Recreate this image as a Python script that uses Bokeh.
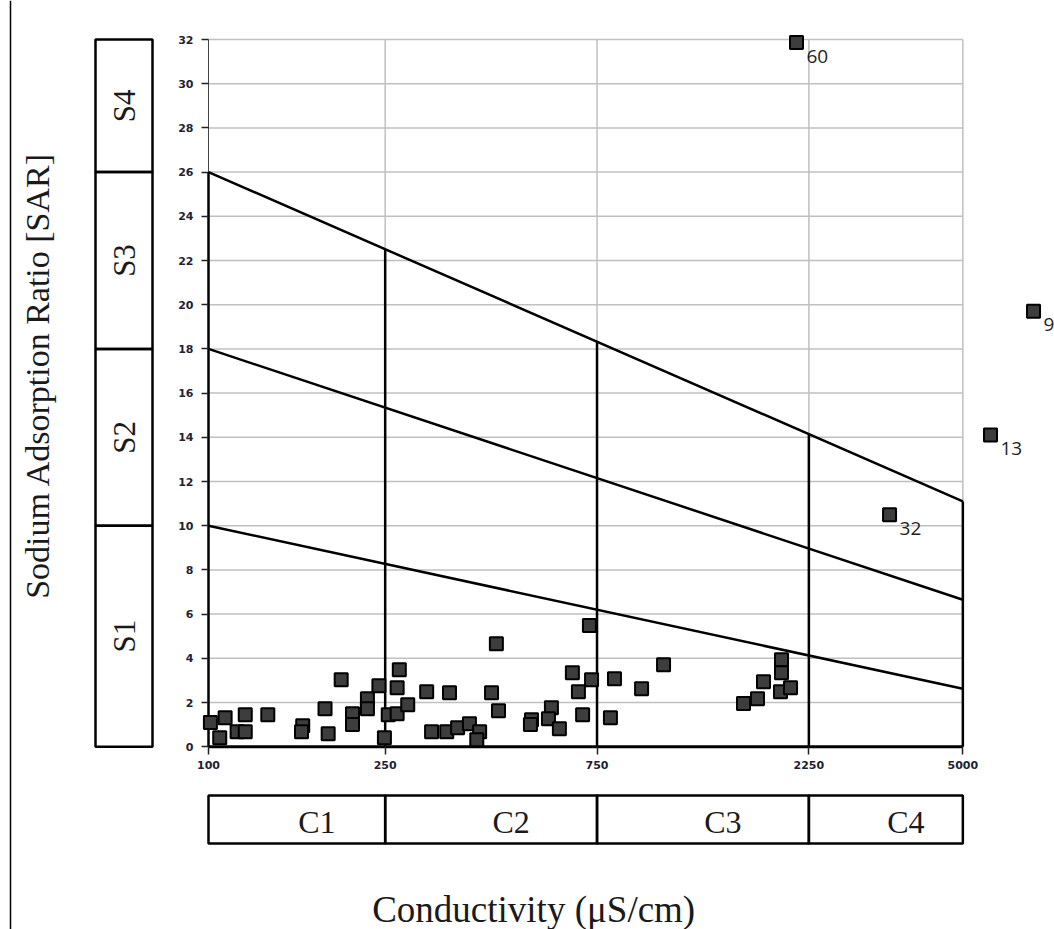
import numpy as np
from bokeh.plotting import figure
from bokeh.layouts import row, column
from bokeh.models import Range1d, FixedTicker, PrintfTickFormatter
from bokeh.core.properties import value
from bokeh.embed import file_html
from bokeh.resources import INLINE

# ---------------- data ----------------
COND = [101, 109, 106, 116, 121, 121, 136, 163, 162, 183,
        186, 199, 211, 211, 228, 228, 242, 249, 254, 266,
        266, 269, 281, 310, 318, 344, 349, 364, 387, 408,
        402, 434, 445, 450, 534, 531, 592, 583, 617, 660,
        681, 696, 729, 721, 804, 821, 945, 1059, 1603, 1724,
        1778, 1952, 1952, 1942, 2046]
SAR = [1.09, 1.31, 0.41, 0.68, 0.68, 1.45, 1.45, 0.95, 0.68, 1.72,
       0.59, 3.03, 1.49, 1.0, 2.17, 1.72, 2.76, 0.41, 1.45, 1.49,
       2.67, 3.48, 1.90, 2.49, 0.68, 0.68, 2.44, 0.86, 1.04, 0.68,
       0.32, 2.44, 4.66, 1.63, 1.22, 1.0, 1.76, 1.27, 0.81, 3.35,
       2.49, 1.45, 3.03, 5.48, 1.31, 3.08, 2.62, 3.71, 1.95, 2.17,
       2.94, 3.94, 3.35, 2.49, 2.67]

# labelled samples
OUT_COND = [2110, 3419, 5771, 7214]
OUT_SAR = [31.86, 10.5, 14.1, 19.7]
OUT_ID = ["60", "32", "13", "9"]

# classification
C_BREAKS = [100, 250, 750, 2250, 5000]
C_LABELS = ["C1", "C2", "C3", "C4"]
S_BREAKS = [0, 10, 18, 26, 32]
S_LABELS = ["S1", "S2", "S3", "S4"]
LINE_X = [100, 5000]
S1_S2 = [10, 2.62]
S2_S3 = [18, 6.65]
S3_S4 = [26, 11.1]
Y_TICKS = list(range(0, 33, 2))

# ---------------- layout constants ----------------
PX_DEC = 444.0      # pixels per decade of conductivity
PX_SAR = 22.1       # pixels per SAR unit
TOT_W = 1054
TOT_H = 929
LEFT_W = 158
MAIN_W = TOT_W - LEFT_W
BORDER_L = 43
FRAME_W = MAIN_W - BORDER_L
FRAME_H = 754
BORDER_B = 22
TOP_H = FRAME_H + BORDER_B
BOT_H = TOT_H - TOP_H

Y_TOP = 32 + 39 / PX_SAR
Y_BOT = Y_TOP - FRAME_H / PX_SAR
LOG_L = 2 - 7 / PX_DEC
X_START = 10 ** LOG_L
X_END = 10 ** (LOG_L + FRAME_W / PX_DEC)

SERIF = value("Liberation Serif")
TXT = "#1a1a1a"

# ---------------- main plot ----------------
p = figure(width=MAIN_W, height=TOP_H, x_axis_type="log",
           x_range=Range1d(X_START, X_END), y_range=Range1d(Y_BOT, Y_TOP),
           output_backend="svg", toolbar_location=None,
           min_border_left=BORDER_L, min_border_right=0,
           min_border_top=0, min_border_bottom=BORDER_B)
p.outline_line_color = None
p.xgrid.visible = False
p.ygrid.visible = False

# grid (only inside diagram)
gy = Y_TICKS[1:]
p.segment(x0=[LINE_X[0]] * len(gy), x1=[LINE_X[1]] * len(gy), y0=gy, y1=gy,
          line_color="#c0c0c0", line_width=1.5)
gx = C_BREAKS[1:]
p.segment(x0=gx, x1=gx, y0=[0] * len(gx), y1=[S_BREAKS[-1]] * len(gx),
          line_color="#c0c0c0", line_width=1.5)
p.segment(x0=[C_BREAKS[0]], x1=[C_BREAKS[0]], y0=[0], y1=[S_BREAKS[-1]],
          line_color="#444444", line_width=1)

# classification lines
for ys in (S1_S2, S2_S3, S3_S4):
    p.line(LINE_X, ys, line_color="black", line_width=2.5)
v_top = np.interp(np.log10(C_BREAKS), np.log10(LINE_X), S3_S4)
p.segment(x0=C_BREAKS, x1=C_BREAKS, y0=[0] * len(C_BREAKS), y1=list(v_top),
          line_color="black", line_width=2.5)
p.segment(x0=[LINE_X[0]], x1=[LINE_X[1]], y0=[0], y1=[0],
          line_color="black", line_width=3)

# samples
p.scatter(COND + OUT_COND, SAR + OUT_SAR, marker="square", size=13,
          fill_color="#3d3d3d", line_color="black", line_width=2)
p.text(OUT_COND, OUT_SAR, text=OUT_ID, x_offset=10, y_offset=7,
       text_baseline="top", text_align="left",
       text_font=value("Open Sans"), text_font_size="19px", text_color="#222222")

# axes
p.yaxis.ticker = FixedTicker(ticks=Y_TICKS)
p.yaxis.axis_line_color = None
p.yaxis.major_tick_in = 7
p.yaxis.major_tick_out = 0
p.yaxis.minor_tick_line_color = None
p.yaxis.major_label_standoff = 8
p.xaxis.ticker = FixedTicker(ticks=C_BREAKS)
p.xaxis.formatter = PrintfTickFormatter(format="%d")
p.xaxis.axis_line_color = None
p.xaxis.major_tick_in = 8
p.xaxis.major_tick_out = 0
p.xaxis.minor_tick_line_color = None
p.xaxis.major_label_standoff = 6
for ax in (p.xaxis, p.yaxis):
    ax.major_tick_line_color = "#222222"
    ax.major_tick_line_width = 1.5
    ax.major_label_text_font = "DejaVu Sans"
    ax.major_label_text_font_style = "bold"
    ax.major_label_text_font_size = "11px"
    ax.major_label_text_color = "#222233"

# ---------------- left panel (S classes + y label) ----------------
ly0 = Y_TOP - TOT_H / PX_SAR
L = figure(width=LEFT_W, height=TOT_H, x_range=Range1d(0, LEFT_W),
           y_range=Range1d(ly0, Y_TOP), output_backend="svg",
           toolbar_location=None, min_border=0,
           x_axis_location=None, y_axis_location=None)
L.outline_line_color = None
L.xgrid.visible = False
L.ygrid.visible = False
L.quad(left=95, right=152, bottom=S_BREAKS[:-1], top=S_BREAKS[1:],
       fill_color=None, line_color="black", line_width=2.5)
s_mid = [(a + b) / 2 for a, b in zip(S_BREAKS[:-1], S_BREAKS[1:])]
L.text(x=[124] * 4, y=s_mid, text=S_LABELS, angle=np.pi / 2,
       text_align="center", text_baseline="middle",
       text_font=SERIF, text_font_size="31px", text_color=TXT)
L.text(x=[37], y=[16.8], text=["Sodium Adsorption Ratio [SAR]"], angle=np.pi / 2,
       text_align="center", text_baseline="middle",
       text_font=SERIF, text_font_size="34px", text_color=TXT)
L.segment(x0=[10], x1=[10], y0=[ly0], y1=[Y_TOP], line_color="black", line_width=1.5)

# ---------------- bottom panel (C classes + x label) ----------------
B = figure(width=MAIN_W, height=BOT_H, x_axis_type="log", x_range=p.x_range,
           y_range=Range1d(BOT_H, 0), output_backend="svg",
           toolbar_location=None, min_border_left=BORDER_L, min_border_right=0,
           min_border_top=0, min_border_bottom=0,
           x_axis_location=None, y_axis_location=None)
B.outline_line_color = None
B.xgrid.visible = False
B.ygrid.visible = False
B.quad(left=C_BREAKS[:-1], right=C_BREAKS[1:], top=19, bottom=67,
       fill_color=None, line_color="black", line_width=2.5)
c_mid = [np.sqrt(a * b) for a, b in zip(C_BREAKS[:-1], C_BREAKS[1:])]
B.text(x=c_mid, y=[45] * 4, text=C_LABELS, x_offset=20,
       text_align="center", text_baseline="middle",
       text_font=SERIF, text_font_size="32px", text_color=TXT)
B.text(x=[540], y=[133], text=["Conductivity (μS/cm)"],
       text_align="center", text_baseline="middle",
       text_font=SERIF, text_font_size="37px", text_color=TXT)

layout = row(L, column(p, B))
open("out.html", "w").write(file_html(layout, INLINE))
